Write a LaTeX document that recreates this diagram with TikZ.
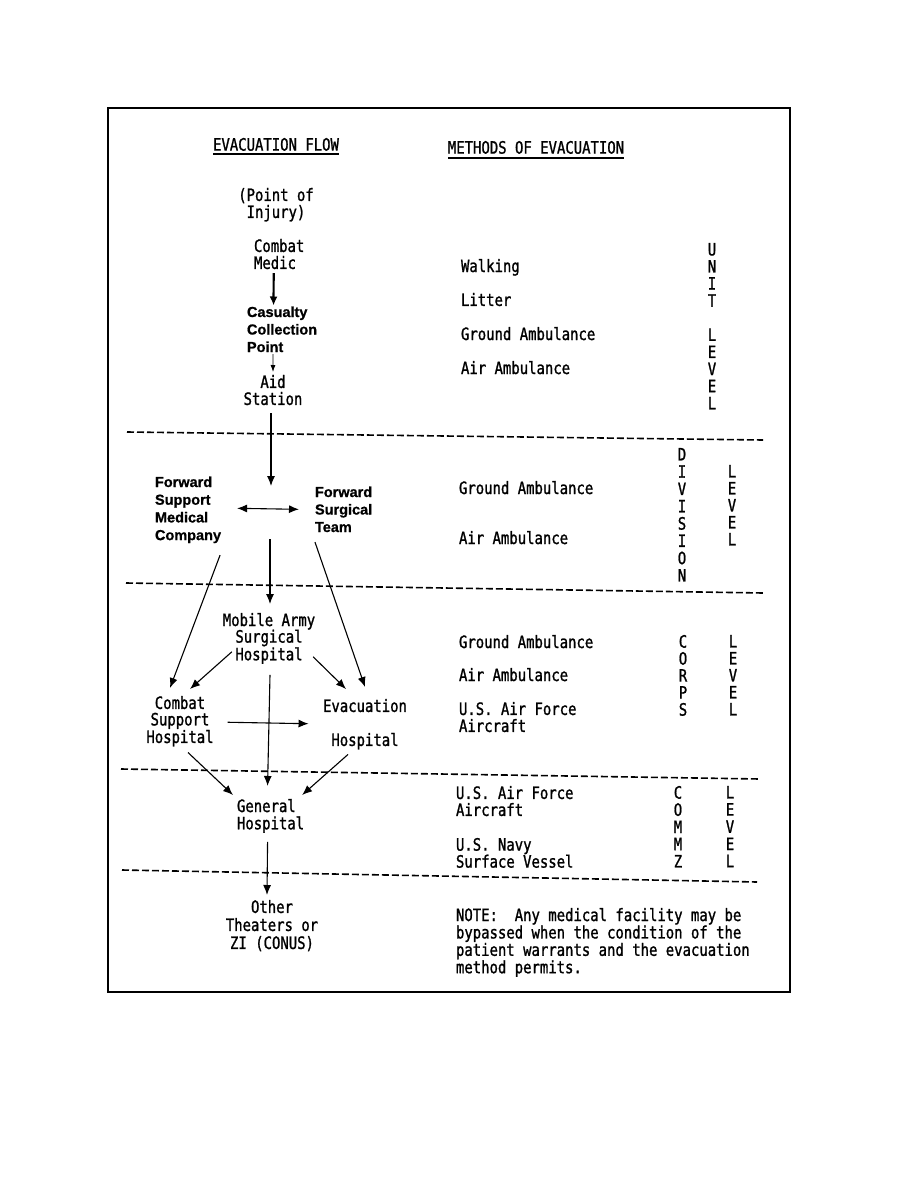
\documentclass[tikz,border=0pt]{standalone}
\usepackage{fontspec}
\usetikzlibrary{calc,arrows.meta}
\newfontfamily\monof[FakeStretch=0.82,FakeBold=1.2]{DejaVu Sans Mono}
\newfontfamily\sansf[BoldFeatures={FakeBold=0.8}]{Liberation Sans}
\tikzset{
 mt/.style={font=\monof\fontsize{17}{#1}\selectfont, inner sep=0pt, outer sep=0pt},
 mt/.default=17.3,
 bt/.style={font=\sansf\bfseries\fontsize{14.5}{#1}\selectfont, inner sep=0pt, outer sep=0pt},
 bt/.default=17.6,
 arr/.style={line width=1.1pt, -{Latex[length=10pt,width=8pt]}},
 sep/.style={line width=1.6pt, dash pattern=on 7pt off 3pt},
 uline/.style={line width=1.8pt},
}
\begin{document}
\begin{tikzpicture}[x=1pt,y=-1pt]
\useasboundingbox (0,0) rectangle (918,1188);
\draw[line width=1.5pt] (108,108) rectangle (790,992);

% headers
\node[mt, anchor=north] (flowhdr) at (276,138) {EVACUATION FLOW};
\node[mt, anchor=north] (methhdr) at (536,141) {METHODS OF EVACUATION};
\draw[uline] ($(flowhdr.south west)+(0,3)$) -- ($(flowhdr.south east)+(0,3)$);
\draw[uline, line width=2.2pt] ($(methhdr.south west)+(0,4)$) -- ($(methhdr.south east)+(0,4)$);

% flow nodes
\node[mt=17, anchor=north, align=center] (poi) at (276,188) {(Point of\\Injury)};
\node[mt=17, anchor=north west, align=left] (medic) at (254,239) {Combat\\Medic};
\node[bt=17.5, anchor=north west, align=left] (ccp) at (247,306.5) {Casualty\\Collection\\Point};
\node[mt=17, anchor=north, align=center] (aid) at (273,375) {Aid\\Station};
\node[bt=17.7, anchor=north west, align=left] (fsmc) at (155,476.5) {Forward\\Support\\Medical\\Company};
\node[bt=17.5, anchor=north west, align=left] (fst) at (315,486.5) {Forward\\Surgical\\Team};
\node[mt=16.6, anchor=north, align=center] (mash) at (269,613) {Mobile Army\\Surgical\\Hospital};
\node[mt=16.5, anchor=north, align=center] (csh) at (180,696) {Combat\\Support\\Hospital};
\node[mt=34, anchor=north, align=center] (evac) at (365,699) {Evacuation\\Hospital};
\node[mt=17.3, anchor=north west, align=left] (gh) at (237,799) {General\\Hospital};
\node[mt=18, anchor=north, align=center] (other) at (272,900) {Other\\Theaters or\\ZI (CONUS)};

\coordinate (divtop) at (271,486);
\coordinate (divbot) at (270,539);

% flow connectors
\draw[line width=2.2pt, -{Latex[length=9pt,width=8pt]}] ($(medic.south)+(-5.5,4)$) -- ($(ccp.north)+(-8.5,-1)$);
\draw[line width=0.8pt, -{Latex[length=7pt,width=5pt]}] ($(ccp.south)+(-9,2)$) -- ($(aid.north)+(0,-3)$);
\draw[arr] ($(aid.south)+(-2,8)$) -- (divtop);
\draw[line width=1.1pt, {Latex[length=10pt,width=8pt]}-{Latex[length=10pt,width=8pt]}] ($(fsmc.east)+(16,-1.5)$) -- ($(fst.west)+(-16,0)$);
\draw[arr] (divbot) -- ($(mash.north)+(1,-9)$);
\draw[arr] ($(fsmc.south east)+(-1,12)$) -- ($(csh.north)+(-10,-8)$);
\draw[arr] ($(fst.south west)+(0,10)$) -- ($(evac.north)+(0,-12)$);
\draw[arr] ($(mash.south west)+(9,-12)$) -- ($(csh.north)+(10,-7)$);
\draw[arr] ($(mash.south east)+(-2,-7)$) -- ($(evac.north)+(-19,-10)$);
\draw[arr] ($(mash.south)+(1,11)$) -- ($(gh.north)+(-3,-13)$);
\draw[arr] ($(csh.east)+(14,1)$) -- ($(evac.west)+(-14.5,-0.5)$);
\draw[arr] ($(csh.south)+(8,6)$) -- ($(gh.north west)+(-4,-4)$);
\draw[arr] ($(evac.south)+(-17,5)$) -- ($(gh.north east)+(-2,-4)$);
\draw[arr] ($(gh.south)+(-3,9)$) -- ($(other.north)+(-5,-5)$);

% separators
\draw[sep] (127,432) -- (763,440);
\draw[sep] (126,583) -- (763,593);
\draw[sep] (121,769) -- (760,779);
\draw[sep] (122,870) -- (757,882);

% methods
\node[mt, anchor=north west] (walk) at (461,259) {Walking};
\node[mt, anchor=north west] (litter) at (461,293) {Litter};
\node[mt, anchor=north west] (uground) at (461,327) {Ground Ambulance};
\node[mt, anchor=north west] (uair) at (461,361) {Air Ambulance};
\node[mt, anchor=north west] (dground) at (459,481) {Ground Ambulance};
\node[mt, anchor=north west] (dair) at (459,531) {Air Ambulance};
\node[mt, anchor=north west] (cground) at (459,635) {Ground Ambulance};
\node[mt, anchor=north west] (cair) at (459,668) {Air Ambulance};
\node[mt=17, anchor=north west, align=left] (cusaf) at (459,702) {U.S. Air Force\\Aircraft};
\node[mt=17, anchor=north west, align=left] (zusaf) at (456,786) {U.S. Air Force\\Aircraft};
\node[mt=17, anchor=north west, align=left] (znavy) at (456,838) {U.S. Navy\\Surface Vessel};
\node[mt=17.4, anchor=north west, align=left] (note) at (456,908) {NOTE:\ \ Any medical facility may be\\bypassed when the condition of the\\patient warrants and the evacuation\\method permits.};

% level columns
\node[mt=17.1, anchor=north, align=center] (unit) at (712,243) {U\\N\\I\\T\\\mbox{}\\L\\E\\V\\E\\L};
\node[mt=17.3, anchor=north, align=center] (division) at (682,448) {D\\I\\V\\I\\S\\I\\O\\N};
\node[mt=17, anchor=north, align=center] (divlevel) at (732,465) {L\\E\\V\\E\\L};
\node[mt=17, anchor=north, align=center] (corps) at (683,635) {C\\O\\R\\P\\S};
\node[mt=17, anchor=north, align=center] (corpslevel) at (733,635) {L\\E\\V\\E\\L};
\node[mt=17.2, anchor=north, align=center] (commz) at (678,786) {C\\O\\M\\M\\Z};
\node[mt=17.2, anchor=north, align=center] (commzlevel) at (730,786) {L\\E\\V\\E\\L};
\end{tikzpicture}
\end{document}
